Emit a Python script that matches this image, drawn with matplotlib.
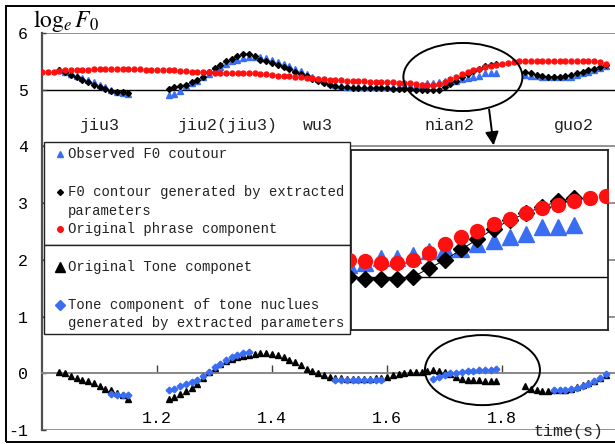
import numpy as np
import matplotlib
matplotlib.use("Agg")
import matplotlib.pyplot as plt
from matplotlib.patches import Ellipse, Rectangle
from matplotlib.lines import Line2D

plt.rcParams["mathtext.fontset"] = "stix"
MONO = "Liberation Mono"

# frame shift of the contours (s)
step = 0.01

# phrase component (red), one value per frame from 1.00 s
phrase_start = 1.00
phrase = [5.31, 5.31, 5.31, 5.33, 5.34, 5.34, 5.35, 5.35, 5.35, 5.36,
          5.36, 5.36, 5.36, 5.36, 5.36, 5.36, 5.36, 5.36, 5.35, 5.34,
          5.34, 5.34, 5.34, 5.34, 5.33, 5.33, 5.32, 5.32, 5.31, 5.31,
          5.30, 5.30, 5.30, 5.30, 5.29, 5.29, 5.29, 5.29, 5.28, 5.27,
          5.26, 5.25, 5.24, 5.24, 5.23, 5.22, 5.21, 5.20, 5.19, 5.19,
          5.18, 5.17, 5.17, 5.16, 5.16, 5.15, 5.15, 5.14, 5.14, 5.14,
          5.13, 5.13, 5.12, 5.12, 5.11, 5.10, 5.09, 5.08, 5.08, 5.10,
          5.14, 5.19, 5.23, 5.27, 5.31, 5.34, 5.37, 5.40, 5.42, 5.44,
          5.46, 5.47, 5.49, 5.50, 5.51, 5.51, 5.51, 5.51, 5.51, 5.51,
          5.51, 5.51, 5.51, 5.51, 5.51, 5.51, 5.50, 5.48, 5.46]

# observed F0 (blue triangles): segments (start time, values)
obs_starts = [1.03, 1.22, 1.84]
obs_vals = [
    [5.35, 5.32, 5.28, 5.25, 5.21, 5.17, 5.13, 5.09, 5.04, 4.99, 4.96, 4.94, 4.92],
    [4.90, 4.92, 4.97, 5.06, 5.11, 5.16, 5.22, 5.28, 5.34, 5.40,
     5.45, 5.50, 5.53, 5.56, 5.57, 5.57, 5.57, 5.56, 5.52, 5.49,
     5.45, 5.41, 5.36, 5.33, 5.28, 5.23, 5.19, 5.15, 5.11, 5.08,
     5.06, 5.05, 5.05, 5.05, 5.05, 5.05, 5.05, 5.05, 5.05, 5.05,
     5.05, 5.06, 5.06, 5.07, 5.08, 5.11, 5.11, 5.13, 5.15, 5.16,
     5.16, 5.19, 5.21, 5.23, 5.25, 5.29, 5.29, 5.30],
    [5.26, 5.25, 5.24, 5.22, 5.22, 5.22, 5.22, 5.22, 5.23, 5.26, 5.29, 5.32, 5.35, 5.38, 5.42],
]

# F0 contour generated by extracted parameters (black diamonds)
gen_starts = [1.03, 1.22, 1.84]
gen_vals = [
    [5.34, 5.31, 5.26, 5.22, 5.18, 5.13, 5.09, 5.05, 5.01, 4.97, 4.96, 4.96, 4.95],
    [5.02, 5.04, 5.06, 5.09, 5.13, 5.18, 5.23, 5.31, 5.38, 5.44,
     5.50, 5.54, 5.59, 5.63, 5.63, 5.59, 5.53, 5.50, 5.47, 5.44,
     5.40, 5.36, 5.31, 5.28, 5.24, 5.19, 5.16, 5.12, 5.09, 5.07,
     5.05, 5.04, 5.03, 5.03, 5.03, 5.03, 5.03, 5.03, 5.03, 5.02,
     5.02, 5.01, 5.01, 5.00, 4.99, 4.99, 4.99, 5.00, 5.05, 5.10,
     5.16, 5.22, 5.28, 5.33, 5.37, 5.41, 5.44, 5.46],
    [5.32, 5.29, 5.26, 5.24, 5.23, 5.23, 5.23, 5.24, 5.26, 5.29, 5.31, 5.34, 5.37, 5.40, 5.43],
]

# original tone component (black triangles)
tone_starts = [1.03, 1.22, 1.84]
tone_vals = [
    [0.02, 0.00, -0.05, -0.08, -0.11, -0.14, -0.18, -0.22, -0.27, -0.30, -0.35, -0.38, -0.45],
    [-0.45, -0.41, -0.37, -0.31, -0.26, -0.19, -0.08, 0.02, 0.10, 0.16,
     0.21, 0.25, 0.28, 0.30, 0.32, 0.34, 0.35, 0.35, 0.34, 0.32,
     0.29, 0.24, 0.20, 0.14, 0.08, 0.04, 0.00, -0.03, -0.06, -0.08,
     -0.09, -0.10, -0.10, -0.10, -0.10, -0.10, -0.09, -0.08, -0.06, -0.03,
     -0.01, 0.00, 0.02, 0.02, 0.02, 0.04, 0.05, 0.04, 0.02, -0.01,
     -0.07, -0.10, -0.11, -0.12, -0.12, -0.13, -0.13, -0.14],
    [-0.23, -0.28, -0.30, -0.31, -0.31, -0.30, -0.30, -0.29, -0.27, -0.24, -0.21, -0.17, -0.13, -0.08, -0.03],
]

# tone component of tone nucleus generated by extracted parameters (blue diamonds)
nuc_starts = [1.12, 1.22, 1.51, 1.68, 1.89]
nuc_vals = [
    [-0.36, -0.38, -0.39, -0.39],
    [-0.30, -0.27, -0.23, -0.19, -0.15, -0.11, -0.04, 0.03, 0.11, 0.17, 0.23, 0.28, 0.32, 0.35, 0.37],
    [-0.11, -0.11, -0.11, -0.11, -0.11, -0.11, -0.11, -0.11, -0.11],
    [-0.095, -0.065, -0.035, 0.00, 0.01, 0.02, 0.035, 0.04, 0.05, 0.055, 0.065, 0.07],
    [-0.29, -0.30, -0.29, -0.28, -0.26, -0.23, -0.19, -0.14, -0.09, -0.02],
]

syllables = ["jiu3", "jiu2(jiu3)", "wu3", "nian2", "guo2"]
syl_x = [1.099, 1.321, 1.48, 1.708, 1.925]

xticks = [1.2, 1.4, 1.6, 1.8]
yticks = [-1, 0, 1, 2, 3, 4, 5, 6]

BLUE = "#3a6ef2"
RED = "#ff1010"


def joined(starts, vals):
    xs, ys = [], []
    for s, v in zip(starts, vals):
        xs += list(s + step * np.arange(len(v))) + [np.nan]
        ys += list(v) + [np.nan]
    return np.array(xs), np.array(ys)


W, H = 615, 444
fig = plt.figure(figsize=(W / 100, H / 100), dpi=100)


def fx(px):
    return px / W


def fy(py):
    return 1 - py / H


ax = fig.add_axes([fx(42), fy(430), 575 / W, 397 / H])
ax.set_xlim(1.0, 2.0)
ax.set_ylim(-1, 6)

for yv in yticks:
    if yv == 5:
        ax.axhline(yv, color="black", lw=1.0, zorder=1)
    else:
        ax.axhline(yv, color="#8a8a8a", lw=1.3, zorder=1)

for sp in ["top", "right"]:
    ax.spines[sp].set_visible(False)
ax.spines["left"].set_color("#505050")
ax.spines["left"].set_linewidth(1.6)
ax.spines["bottom"].set_position(("data", 0))
ax.spines["bottom"].set_color("#8a8a8a")
ax.spines["bottom"].set_linewidth(1.3)

ax.set_yticks(yticks)
ax.set_yticklabels([str(v) for v in yticks], fontfamily=MONO, fontsize=12)
ax.tick_params(axis="y", direction="in", length=3, width=1, color="#404040", pad=10)
ax.set_xticks(xticks)
ax.set_xticklabels([f"{v:.1f}" for v in xticks], fontfamily=MONO, fontsize=12)
ax.tick_params(axis="x", direction="in", length=6, width=1, color="#404040", pad=27)

# top band
x, y = joined(obs_starts, obs_vals)
ax.plot(x, y, ls="none", marker="^", ms=4.5, color=BLUE, mec=BLUE, zorder=3)
x, y = joined(gen_starts, gen_vals)
ax.plot(x, y, ls="-", lw=0.5, marker="D", ms=3.0, color="black", zorder=4)
ax.plot(phrase_start + step * np.arange(len(phrase)), phrase, ls="none", marker="o",
        ms=3.6, color=RED, mec=RED, zorder=5)

# bottom band
x, y = joined(tone_starts, tone_vals)
ax.plot(x, y, ls="none", marker="^", ms=5, color="black", zorder=3)
x, y = joined(nuc_starts, nuc_vals)
ax.plot(x, y, ls="none", marker="D", ms=3.4, color=BLUE, mec=BLUE, zorder=4)

for s, xs in zip(syllables, syl_x):
    ax.text(xs, 4.29, s, fontfamily=MONO, fontsize=12, ha="center", va="baseline", color="#222222")

ax.text(1.915, -1.02, "time(s)", fontfamily=MONO, fontsize=12, ha="center", va="center",
        color="#222222", clip_on=False)

ax.add_patch(Ellipse((1.732, 5.224), 0.207, 1.2, fill=False, lw=1.4, color="black", zorder=6))
ax.add_patch(Ellipse((1.766, 0.056), 0.2, 1.235, fill=False, lw=1.4, color="black", zorder=6))
ax.annotate("", xy=(1.786, 3.97), xytext=(1.777, 4.70),
            arrowprops=dict(arrowstyle="-|>", color="black", lw=1.4, mutation_scale=20),
            annotation_clip=False, zorder=7)

fig.text(fx(33), fy(27), r"$\log_e F_0$", fontsize=17, ha="left", va="baseline")

# legend boxes
for top, bot in [(142, 245), (245, 334)]:
    fig.add_artist(Rectangle((fx(44), fy(bot)), fx(350) - fx(44), fy(top) - fy(bot),
                             transform=fig.transFigure, facecolor="white",
                             edgecolor="#222222", lw=1.0, zorder=5))

legend_rows = [
    (154, "^", 4.5, BLUE, "Observed F0 coutour"),
    (192, "D", 3.0, "black", "F0 contour generated by extracted"),
    (211, None, 0, None, "parameters"),
    (229, "o", 4.0, RED, "Original phrase component"),
    (267, "^", 7.5, "black", "Original Tone componet"),
    (305, "D", 5.0, BLUE, "Tone component of tone nuclues"),
    (323, None, 0, None, "generated by extracted parameters"),
]
for py, mk, ms, col, label in legend_rows:
    if mk is not None:
        fig.add_artist(Line2D([fx(60)], [fy(py)], marker=mk, ms=ms, color=col, mec=col,
                              ls="none", transform=fig.transFigure, zorder=6))
    fig.text(fx(68), fy(py), label, fontfamily=MONO, fontsize=10, ha="left", va="center",
             color="#222222", zorder=6)

# magnified view of nian2
ins = fig.add_axes([fx(351), fy(330), 257 / W, 180 / H], zorder=8)
ins.set_xlim(1.6515, 1.811)
ins.set_ylim(4.69, 5.74)
ins.axhline(5.0, color="black", lw=1.0, zorder=1)
x, y = joined(obs_starts, obs_vals)
ins.plot(x, y, ls="none", marker="^", ms=11, color=BLUE, mec=BLUE, zorder=3)
x, y = joined(gen_starts, gen_vals)
ins.plot(x, y, ls="-", lw=0.7, marker="D", ms=8, color="black", zorder=4)
ins.plot(phrase_start + step * np.arange(len(phrase)), phrase, ls="none", marker="o",
         ms=10, color=RED, mec=RED, zorder=5)
ins.set_xticks([])
ins.set_yticks([])
for sp in ins.spines.values():
    sp.set_color("#222222")
    sp.set_linewidth(1.3)

# outer frame
fig.add_artist(Rectangle((fx(6), fy(442)), 1.0, fy(6) - fy(442), transform=fig.transFigure,
                         fill=False, edgecolor="black", lw=1.4, zorder=10))

fig.savefig("out.png", dpi=100)
